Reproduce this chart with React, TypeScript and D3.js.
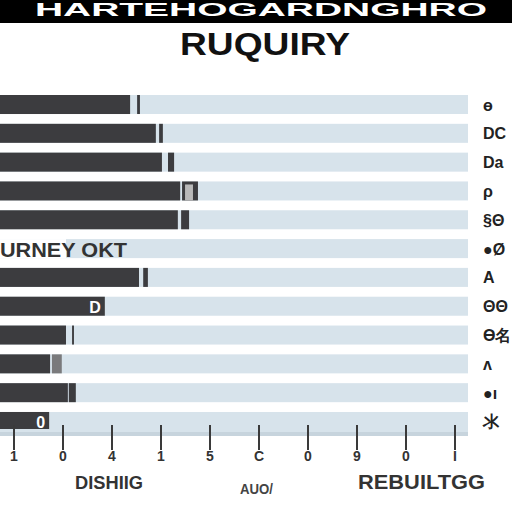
import * as d3 from "d3";

const rowIds = ["r1", "r2", "r3", "r4", "r5", "r6", "r7", "r8", "r9", "r10", "r11", "r12"];
const barValues = [27.8, 33.3, 34.6, 38.5, 38.0, 0, 29.7, 22.4, 14.1, 10.7, 14.5, 10.5];
const markerStart = [29.3, 34.0, 35.9, 38.9, 38.7, null, 30.6, null, 15.4, 11.1, 14.7, null];
const markerEnd = [29.9, 34.8, 37.2, 42.3, 40.4, null, 31.6, null, 15.8, 13.2, 16.2, null];
const inlineLabels = ["", "", "", "", "", "URNEY OKT", "", "D", "", "", "", "0"];
const rightLabels = ["ɵ", "DC", "Da", "ρ", "§Θ", "●Ø", "A", "ΘΘ", "Ѳ名", "ᴧ", "●ı", "氺"];
const tickLabels = ["1", "0", "4", "1", "5", "C", "0", "9", "0", "I"];

const DARK = "#3c3c3f";
const LIGHT = "#d7e3eb";
const FONT = "'Liberation Sans', Arial, sans-serif";

export default function App() {
  const x = d3.scaleLinear().domain([0, 100]).range([0, 468]);
  const y = d3.scaleBand<string>().domain(rowIds).range([95, 431]).paddingInner(0.34);
  const tx = d3
    .scalePoint<number>()
    .domain(tickLabels.map((_, i) => i))
    .range([14, 455]);
  const bw = y.bandwidth();

  return (
    <svg
      width={512}
      height={512}
      style={{ position: "fixed", left: 0, top: 0, background: "#fff" }}
      fontFamily={FONT}
    >
      {/* banner */}
      <rect x={0} y={0} width={512} height={23} fill="#000" />
      <text x={35} y={16} fontSize={19} fontWeight="bold" fill="#fff" textLength={452} lengthAdjust="spacingAndGlyphs">
        HARTEHOGARDNGHRO
      </text>
      <text x={180} y={55} fontSize={32} fontWeight="bold" fill="#111" textLength={170} lengthAdjust="spacingAndGlyphs">
        RUQUIRY
      </text>

      {/* rows */}
      {rowIds.map((id, i) => {
        const top = y(id)!;
        const ms = markerStart[i];
        const me = markerEnd[i];
        return (
          <g key={id}>
            <rect x={x(0)} y={top} width={x(100) - x(0)} height={bw} fill={LIGHT} />
            {barValues[i] > 0 && (
              <rect x={x(0)} y={top} width={x(barValues[i]) - x(0)} height={bw} fill={DARK} />
            )}
            {ms !== null && me !== null && (
              <rect
                x={x(ms)}
                y={top}
                width={x(me) - x(ms)}
                height={bw}
                fill={i === 9 ? "#7a7a7c" : DARK}
              />
            )}
            {i === 3 && ms !== null && me !== null && (
              <rect x={x(ms) + 3} y={top + 3} width={x(me) - x(ms) - 8} height={bw - 3} fill="#b9b9b9" />
            )}
            {inlineLabels[i] && i === 5 && (
              <>
                <rect x={x(0)} y={top} width={66} height={bw} fill="#fff" />
                <text x={0} y={top + bw - 1} fontSize={21} fontWeight="bold" fill="#333" textLength={127} lengthAdjust="spacingAndGlyphs">
                  {inlineLabels[i]}
                </text>
              </>
            )}
            {inlineLabels[i] && i !== 5 && (
              <text
                x={x(barValues[i]) - 4}
                y={top + bw - 3}
                fontSize={16}
                fontWeight="bold"
                fill="#fff"
                textAnchor="end"
              >
                {inlineLabels[i]}
              </text>
            )}
            <text x={483} y={top + bw / 2 + 6} fontSize={16} fontWeight="bold" fill="#222">
              {rightLabels[i]}
            </text>
          </g>
        );
      })}

      {/* axis strip */}
      <rect x={x(0)} y={429} width={x(100) - x(0)} height={7} fill={LIGHT} />
      <rect x={x(0)} y={432} width={x(100) - x(0)} height={4} fill="#c7d4dd" />

      {/* ticks */}
      {tickLabels.map((t, i) => (
        <g key={i} transform={`translate(${tx(i)},0)`}>
          <line y1={425} y2={450} stroke="#3a3a3a" strokeWidth={2} />
          <text y={461} fontSize={14} fontWeight="bold" fill="#333" textAnchor="middle">
            {t}
          </text>
        </g>
      ))}

      {/* axis titles */}
      <text x={75} y={489} fontSize={18} fontWeight="bold" fill="#333" textLength={68} lengthAdjust="spacingAndGlyphs">
        DISHIIG
      </text>
      <text x={240} y={494} fontSize={14} fontWeight="bold" fill="#444" textLength={33} lengthAdjust="spacingAndGlyphs">
        AUO/
      </text>
      <text x={358} y={489} fontSize={20} fontWeight="bold" fill="#333" textLength={127} lengthAdjust="spacingAndGlyphs">
        REBUILTGG
      </text>
    </svg>
  );
}
